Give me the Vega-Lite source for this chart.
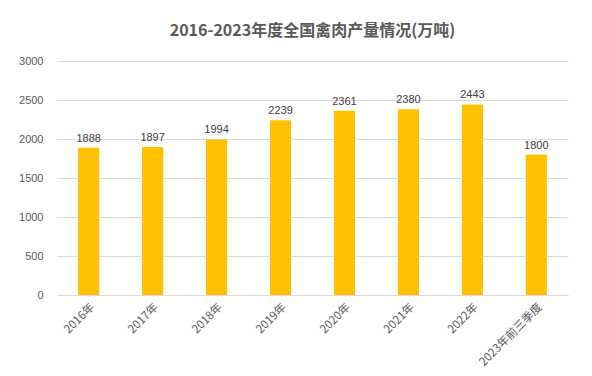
{
  "$schema": "https://vega.github.io/schema/vega-lite/v6.json",
  "width": 511,
  "height": 234,
  "autosize": "none",
  "padding": {"left": 57, "top": 61, "right": 24, "bottom": 81},
  "background": "white",
  "title": {
    "text": "2016-2023年度全国禽肉产量情况(万吨)",
    "font": "Noto Sans CJK SC",
    "fontSize": 16,
    "fontWeight": "bold",
    "color": "#595959",
    "anchor": "middle",
    "offset": 16
  },
  "config": {"view": {"stroke": null}},
  "data": {
    "values": [
      {"year": "2016年", "value": 1888},
      {"year": "2017年", "value": 1897},
      {"year": "2018年", "value": 1994},
      {"year": "2019年", "value": 2239},
      {"year": "2020年", "value": 2361},
      {"year": "2021年", "value": 2380},
      {"year": "2022年", "value": 2443},
      {"year": "2023年前三季度", "value": 1800}
    ]
  },
  "encoding": {
    "x": {
      "field": "year",
      "type": "nominal",
      "sort": null,
      "scale": {"paddingInner": 0.67, "paddingOuter": 0.33},
      "axis": {
        "title": null,
        "labelAngle": -45,
        "labelFont": "Noto Sans CJK SC",
        "labelFontSize": 11.5,
        "labelColor": "#595959",
        "ticks": false,
        "domainColor": "#d9d9d9",
        "labelPadding": 6
      }
    },
    "y": {
      "field": "value",
      "type": "quantitative",
      "scale": {"domain": [0, 3000]},
      "axis": {
        "title": null,
        "format": "d",
        "values": [0, 500, 1000, 1500, 2000, 2500, 3000],
        "labelFont": "Liberation Sans",
        "labelFontSize": 11,
        "labelColor": "#595959",
        "domain": false,
        "ticks": false,
        "labelPadding": 14,
        "gridColor": "#d9d9d9"
      }
    }
  },
  "layer": [
    {"mark": {"type": "bar", "color": "#FFC000"}},
    {
      "mark": {"type": "text", "dy": -9, "font": "Liberation Sans", "fontSize": 11, "color": "#404040"},
      "encoding": {"text": {"field": "value", "type": "quantitative", "format": "d"}}
    }
  ]
}
